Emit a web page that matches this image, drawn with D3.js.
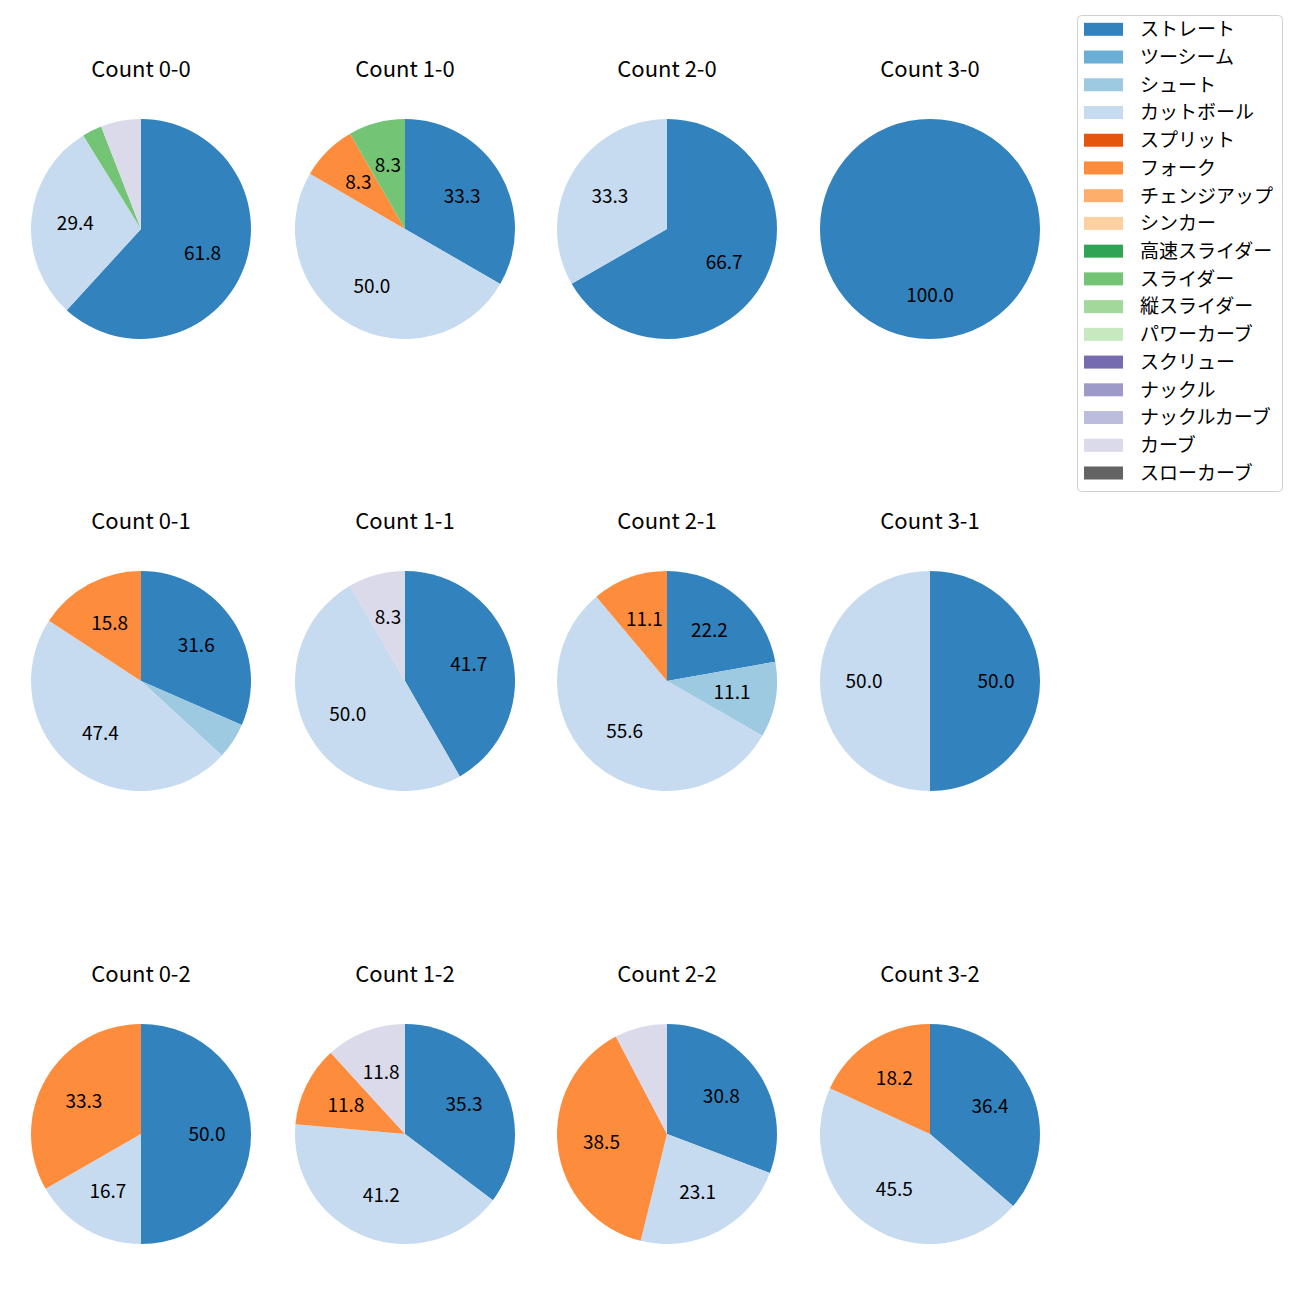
<!DOCTYPE html>
<html><head><meta charset="utf-8">
<script src="https://cdn.jsdelivr.net/npm/d3@7"></script>
<style>body{margin:0;background:#fff;} text{font-family:"Noto Sans CJK JP","Noto Sans",sans-serif;}</style>
</head><body>
<svg id="c" width="1300" height="1300"></svg>
<script>
const pitchTypes = ["ストレート","ツーシーム","シュート","カットボール","スプリット","フォーク","チェンジアップ","シンカー","高速スライダー","スライダー","縦スライダー","パワーカーブ","スクリュー","ナックル","ナックルカーブ","カーブ","スローカーブ"];
const pitchColors = ["#3182bd","#6baed6","#9ecae1","#c6dbef","#e6550d","#fd8d3c","#fdae6b","#fdd0a2","#31a354","#74c476","#a1d99b","#c7e9c0","#756bb1","#9e9ac8","#bcbddc","#dadaeb","#636363"];
const countLabels = ["Count 0-0","Count 1-0","Count 2-0","Count 3-0","Count 0-1","Count 1-1","Count 2-1","Count 3-1","Count 0-2","Count 1-2","Count 2-2","Count 3-2"];
// percentages per pitch type (same order as pitchTypes)
const count00 = [61.8,0,0,29.4,0,0,0,0,0,2.9,0,0,0,0,0,5.9,0];
const count10 = [33.3,0,0,50.0,0,8.3,0,0,0,8.3,0,0,0,0,0,0,0];
const count20 = [66.7,0,0,33.3,0,0,0,0,0,0,0,0,0,0,0,0,0];
const count30 = [100.0,0,0,0,0,0,0,0,0,0,0,0,0,0,0,0,0];
const count01 = [31.6,0,5.3,47.4,0,15.8,0,0,0,0,0,0,0,0,0,0,0];
const count11 = [41.7,0,0,50.0,0,0,0,0,0,0,0,0,0,0,0,8.3,0];
const count21 = [22.2,0,11.1,55.6,0,11.1,0,0,0,0,0,0,0,0,0,0,0];
const count31 = [50.0,0,0,50.0,0,0,0,0,0,0,0,0,0,0,0,0,0];
const count02 = [50.0,0,0,16.7,0,33.3,0,0,0,0,0,0,0,0,0,0,0];
const count12 = [35.3,0,0,41.2,0,11.8,0,0,0,0,0,0,0,0,0,11.8,0];
const count22 = [30.8,0,0,23.1,0,38.5,0,0,0,0,0,0,0,0,0,7.7,0];
const count32 = [36.4,0,0,45.5,0,18.2,0,0,0,0,0,0,0,0,0,0,0];
const countValues = [count00,count10,count20,count30,count01,count11,count21,count31,count02,count12,count22,count32];

const svg = d3.select("#c");
const colX = [141,405,667,930], rowY = [229,681,1134], R = 110;
const color = d3.scaleOrdinal().domain(pitchTypes).range(pitchColors);
const pie = d3.pie().sort(null).value(d => d.v);
const arc = d3.arc().innerRadius(0).outerRadius(R);
const labelArc = d3.arc().innerRadius(R*0.6).outerRadius(R*0.6);
const LFS = 19, TFS = 22, GFS = 19;

countValues.forEach((vals, i) => {
  const cx = colX[i % 4], cy = rowY[Math.floor(i / 4)];
  const g = svg.append("g").attr("transform", `translate(${cx},${cy})`);
  const data = pitchTypes.map((p, k) => ({p, v: vals[k]})).filter(d => d.v > 0);
  const arcs = pie(data);
  g.selectAll("path").data(arcs).join("path")
    .attr("d", arc).attr("fill", d => color(d.data.p));
  g.selectAll("text.lbl").data(arcs.filter(d => d.data.v >= 8)).join("text")
    .attr("class","lbl")
    .attr("x", d => labelArc.centroid(d)[0])
    .attr("y", d => labelArc.centroid(d)[1] + 0.36*LFS)
    .attr("text-anchor","middle")
    .attr("font-size", LFS).attr("fill","#000")
    .text(d => d.data.v.toFixed(1));
  g.append("text").attr("x",0).attr("y",-159.5 + 0.36*TFS)
    .attr("text-anchor","middle")
    .attr("font-size", TFS).attr("fill","#000").text(countLabels[i]);
});

// legend
const lg = svg.append("g");
lg.append("rect").attr("x",1077.5).attr("y",15.5).attr("width",205).attr("height",476)
  .attr("rx",4).attr("fill","#fff").attr("stroke","#d0d0d0").attr("stroke-width",1);
const ly = d3.scaleLinear().domain([0, pitchTypes.length-1]).range([29.3, 473]);
pitchTypes.forEach((p, k) => {
  lg.append("rect").attr("x",1084).attr("y",ly(k)-6.5).attr("width",39).attr("height",13).attr("fill",color(p));
  lg.append("text").attr("x",1140).attr("y",ly(k) + 0.36*GFS)
    .attr("font-size",GFS).attr("fill","#000").text(p);
});
</script>
</body></html>
